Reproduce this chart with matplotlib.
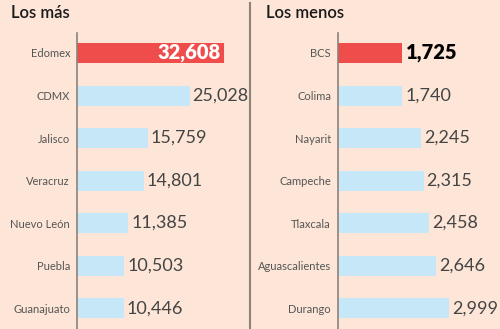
import matplotlib
matplotlib.use("Agg")
import matplotlib.pyplot as plt

# data
mas_states = ["Edomex", "CDMX", "Jalisco", "Veracruz", "Nuevo León", "Puebla", "Guanajuato"]
mas_values = [32608, 25028, 15759, 14801, 11385, 10503, 10446]
menos_states = ["BCS", "Colima", "Nayarit", "Campeche", "Tlaxcala", "Aguascalientes", "Durango"]
menos_values = [1725, 1740, 2245, 2315, 2458, 2646, 2999]

BG = "#fde6d7"
RED = "#ef4c4c"
BLUE = "#c6e7f8"
GRID = "#8c827a"
plt.rcParams["font.family"] = ["Lato", "DejaVu Sans"]

W, H = 500, 329
fig = plt.figure(figsize=(W / 100, H / 100), dpi=100)
fig.patch.set_facecolor(BG)


def panel(left_px, width_px, xmax, states, values, title, title_x, inside):
    ax = fig.add_axes([left_px / W, 0, width_px / W, (H - 33) / H])
    ax.set_facecolor(BG)
    ax.patch.set_alpha(0)
    ys = list(range(len(states)))
    colors = [RED] + [BLUE] * (len(states) - 1)
    ax.barh(ys, values, height=0.47, color=colors)
    ax.set_xlim(0, xmax)
    ax.set_ylim(6.49, -0.47)
    for s in ["top", "right", "bottom"]:
        ax.spines[s].set_visible(False)
    ax.spines["left"].set_color(GRID)
    ax.spines["left"].set_linewidth(1.2)
    ax.set_xticks([])
    ax.set_yticks(ys)
    ax.set_yticklabels(states, fontsize=8, color="#555555")
    ax.tick_params(axis="y", length=0, pad=5)
    for i, v in enumerate(values):
        txt = f"{v:,}"
        if i == 0:
            if inside:
                ax.annotate(txt, (v, i), xytext=(-2, 0), textcoords="offset points",
                            ha="right", va="center", fontsize=14.5, fontweight="heavy", color="white")
            else:
                ax.annotate(txt, (v, i), xytext=(3, 0), textcoords="offset points",
                            ha="left", va="center", fontsize=14.5, fontweight="heavy", color="black")
        else:
            ax.annotate(txt, (v, i), xytext=(2, 0), textcoords="offset points",
                        ha="left", va="center", fontsize=13, color="#444444")
    fig.text(title_x / W, 1 - 13 / H, title, fontsize=12, color="#1a1a1a",
             fontweight="semibold", ha="left", va="center")
    return ax


panel(77, 165, 165 / 147 * 32608, mas_states, mas_values, "Los más", 11, True)
panel(338, 152, 152 / 111 * 2999, menos_states, menos_values, "Los menos", 266, False)

fig.add_artist(plt.Line2D([249.5 / W, 249.5 / W], [0, 1 - 3 / H], color=GRID, lw=1.5,
                          transform=fig.transFigure))

fig.savefig("out.png", dpi=100, facecolor=BG)
